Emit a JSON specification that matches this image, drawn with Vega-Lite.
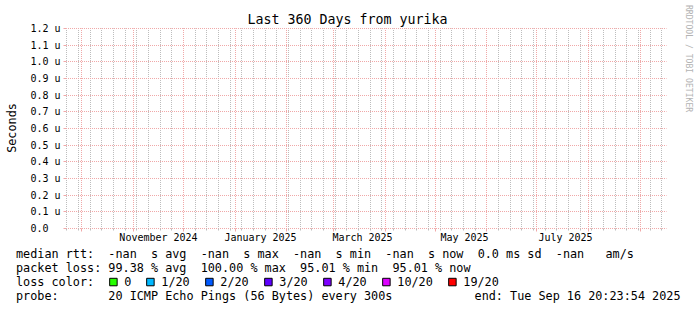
{
  "$schema": "https://vega.github.io/schema/vega-lite/v6.json",
  "width": 600,
  "height": 200,
  "autosize": "none",
  "padding": {"left": 66.5, "top": 28.5, "right": 30.5, "bottom": 81.5},
  "background": "#ffffff",
  "config": {"view": {"stroke": null}, "font": "DejaVu Sans Mono", "axis": {"translate": 0}},
  "title": {"text": "Last 360 Days from yurika", "font": "DejaVu Sans Mono", "fontSize": 13.3, "fontWeight": "normal", "color": "#000000", "anchor": "middle", "baseline": "alphabetic", "dx": -19, "offset": -32},
  "datasets": {
    "legendLines": [
      {"line": 1, "side": "left", "text": "median\u00a0rtt:\u00a0\u00a0-nan\u00a0\u00a0s\u00a0avg\u00a0\u00a0-nan\u00a0\u00a0s\u00a0max\u00a0\u00a0-nan\u00a0\u00a0s\u00a0min\u00a0\u00a0-nan\u00a0\u00a0s\u00a0now\u00a0\u00a00.0\u00a0ms\u00a0sd\u00a0\u00a0-nan\u00a0\u00a0\u00a0am/s"},
      {"line": 2, "side": "left", "text": "packet\u00a0loss:\u00a099.38\u00a0%\u00a0avg\u00a0\u00a0100.00\u00a0%\u00a0max\u00a0\u00a095.01\u00a0%\u00a0min\u00a0\u00a095.01\u00a0%\u00a0now"},
      {"line": 4, "side": "left", "text": "probe:\u00a0\u00a0\u00a0\u00a0\u00a0\u00a0\u00a020\u00a0ICMP\u00a0Echo\u00a0Pings\u00a0(56\u00a0Bytes)\u00a0every\u00a0300s"},
      {"line": 4, "side": "right", "text": "end: Tue Sep 16 20:23:54 2025"}
    ],
    "lossColors": [
      {"loss": "0"}, {"loss": "1/20"}, {"loss": "2/20"}, {"loss": "3/20"}, {"loss": "4/20"}, {"loss": "10/20"}, {"loss": "19/20"}
    ]
  },
  "layer": [
    {
      "layer": [
        {
          "mark": {"type": "rule", "color": "#1f1f1f", "strokeWidth": 1},
          "encoding": {
            "x": {
              "datum": {"year": 2024, "month": 9, "date": 19, "hours": 10, "minutes": 47, "seconds": 54, "utc": true},
              "type": "temporal",
              "scale": {"type": "utc", "nice": false, "round": true, "domain": [
                {"year": 2024, "month": 9, "date": 21, "hours": 20, "minutes": 23, "seconds": 54, "utc": true},
                {"year": 2025, "month": 9, "date": 16, "hours": 20, "minutes": 23, "seconds": 54, "utc": true}
              ]},
              "axis": {"orient": "bottom", "title": null, "labels": false, "domain": false, "ticks": true, "tickSize": 2, "tickColor": "#bdbdbd", "grid": true, "gridColor": "#bdbdbd", "gridOpacity": 1, "gridDash": [1, 1], "gridDashOffset": 0.5, "gridWidth": 1, "tickCount": {"interval": "week", "step": 1}}
            },
            "x2": {"datum": {"year": 2025, "month": 9, "date": 19, "hours": 6, "minutes": 59, "seconds": 54, "utc": true}},
            "y": {
              "datum": 0,
              "type": "quantitative",
              "scale": {"domain": [0, 1.2], "nice": false, "zero": false, "round": true},
              "axis": {
                "orient": "left",
                "values": [0, 0.1, 0.2, 0.3, 0.4, 0.5, 0.6, 0.7, 0.8, 0.9, 1.0, 1.1, 1.2],
                "labelExpr": "datum.value < 0.05 ? '0.0' : format(datum.value, '.1f') + ' u'",
                "labelFont": "DejaVu Sans Mono", "labelFontSize": 10, "labelColor": "#000000",
                "labelAlign": "left", "labelBaseline": "middle", "labelPadding": 33, "labelFlush": false, "labelOverlap": false, "labelBound": false,
                "ticks": true, "tickSize": 3, "tickColor": "#f0a8a8",
                "grid": true, "gridColor": "#f0a8a8", "gridOpacity": 1, "gridDash": [1, 1], "gridDashOffset": 0.5, "gridWidth": 1,
                "domain": false,
                "title": "Seconds", "titleFont": "DejaVu Sans Mono", "titleFontSize": 11.8, "titleFontWeight": "normal", "titleColor": "#000000",
                "titleAngle": -90, "titleAlign": "center", "titleBaseline": "middle", "titleX": -55, "titleY": 99.5
              }
            }
          }
        },
        {
          "mark": {"type": "rule", "color": "#1f1f1f", "strokeWidth": 1},
          "encoding": {
            "x": {
              "datum": {"year": 2024, "month": 9, "date": 21, "hours": 20, "minutes": 23, "seconds": 54, "utc": true},
              "type": "temporal",
              "axis": {"orient": "bottom", "title": null, "labels": false, "domain": false, "ticks": true, "tickSize": 3, "tickColor": "#f0a8a8", "grid": true, "gridColor": "#f0a8a8", "gridOpacity": 1, "gridDash": [1, 1], "gridDashOffset": 0.5, "gridWidth": 1, "tickCount": {"interval": "month", "step": 1}}
            },
            "y": {"datum": -0.024, "type": "quantitative", "axis": null},
            "y2": {"datum": 1.224}
          }
        },
        {
          "mark": {"type": "point", "filled": true, "opacity": 1, "size": 4, "shape": "M2,-3L2,4L7,0.5Z", "color": "#801f1f"},
          "encoding": {
            "x": {
              "datum": {"year": 2025, "month": 9, "date": 16, "hours": 20, "minutes": 23, "seconds": 54, "utc": true},
              "type": "temporal",
              "axis": {
                "orient": "bottom", "title": null, "domain": false, "ticks": false, "grid": false,
                "values": [
                  {"year": 2024, "month": 11, "date": 16, "utc": true},
                  {"year": 2025, "month": 1, "date": 16, "utc": true},
                  {"year": 2025, "month": 3, "date": 18, "hours": 12, "utc": true},
                  {"year": 2025, "month": 5, "date": 18, "hours": 12, "utc": true},
                  {"year": 2025, "month": 7, "date": 18, "hours": 12, "utc": true}
                ],
                "labelExpr": "utcFormat(datum.value, '%B %Y')",
                "labelFont": "DejaVu Sans Mono", "labelFontSize": 10, "labelColor": "#000000",
                "labelAlign": "center", "labelBaseline": "top", "labelPadding": 4, "labelFlush": false, "labelOverlap": false, "labelBound": false
              }
            },
            "y": {"datum": 0, "type": "quantitative", "axis": null}
          }
        },
        {
          "mark": {"type": "point", "filled": true, "opacity": 1, "size": 4, "shape": "M-3,-2L4,-2L0.5,-7Z", "color": "#801f1f"},
          "encoding": {
            "x": {"datum": {"year": 2024, "month": 9, "date": 21, "hours": 20, "minutes": 23, "seconds": 54, "utc": true}, "type": "temporal", "axis": null},
            "y": {"datum": 1.2, "type": "quantitative", "axis": null}
          }
        }
      ],
      "resolve": {"axis": {"x": "independent", "y": "independent"}}
    },
    {
      "data": {"name": "legendLines"},
      "layer": [
        {
          "transform": [{"filter": "datum.side == 'left'"}],
          "mark": {"type": "text", "align": "left", "baseline": "middle", "font": "DejaVu Sans Mono", "fontSize": 11.8, "color": "#000000"},
          "encoding": {
            "x": {"field": "side", "type": "ordinal", "scale": {"type": "point", "domain": ["left", "right"], "range": [-50.5, 614], "padding": 0}, "axis": null},
            "y": {"field": "line", "type": "quantitative", "scale": {"domain": [1, 4], "range": [225.5, 267.5], "zero": false, "nice": false},
              "axis": {"orient": "right", "labels": false, "ticks": false, "domain": false, "grid": false,
                "title": "RRDTOOL / TOBI OETIKER", "titleFont": "DejaVu Sans Mono", "titleFontSize": 8.1, "titleFontWeight": "normal", "titleColor": "#b3b3b3",
                "titleAngle": 90, "titleAlign": "left", "titleBaseline": "middle", "titleX": 21.5, "titleY": -23.5}},
            "text": {"field": "text"}
          }
        },
        {
          "transform": [{"filter": "datum.side == 'right'"}],
          "mark": {"type": "text", "align": "right", "baseline": "middle", "font": "DejaVu Sans Mono", "fontSize": 11.8, "color": "#000000"},
          "encoding": {
            "x": {"field": "side", "type": "ordinal", "axis": null},
            "y": {"field": "line", "type": "quantitative",
              "axis": {"orient": "right", "labels": false, "ticks": false, "domain": false, "grid": false,
                "title": "RRDTOOL / TOBI OETIKER", "titleFont": "DejaVu Sans Mono", "titleFontSize": 8.1, "titleFontWeight": "normal", "titleColor": "#b3b3b3",
                "titleAngle": 90, "titleAlign": "left", "titleBaseline": "middle", "titleX": 21.5, "titleY": -23.5}},
            "text": {"field": "text"}
          }
        }
      ]
    },
    {
      "data": {"name": "lossColors"},
      "mark": {"type": "square", "filled": true, "stroke": "#000000", "strokeWidth": 1, "opacity": 0},
      "encoding": {
        "fill": {
          "field": "loss", "type": "nominal",
          "scale": {"domain": ["0", "1/20", "2/20", "3/20", "4/20", "10/20", "19/20"], "range": ["#26ff00", "#00b8ff", "#0059ff", "#5e00ff", "#7e00ff", "#dd00ff", "#ff0000"]},
          "legend": {
            "orient": "none", "legendX": -50.5, "legendY": 247.5, "direction": "horizontal",
            "title": "loss color:", "titleOrient": "left", "titleFont": "DejaVu Sans Mono", "titleFontSize": 11.8, "titleFontWeight": "normal", "titleColor": "#000000", "titlePadding": 12.5,
            "labelFont": "DejaVu Sans Mono", "labelFontSize": 11.8, "labelColor": "#000000", "labelOffset": 5, "columnPadding": 13, "labelLimit": 0,
            "symbolType": "square", "symbolSize": 56, "symbolStrokeColor": "#000000", "symbolStrokeWidth": 1, "symbolOpacity": 1,
            "padding": 0, "offset": 0
          }
        }
      }
    }
  ],
  "resolve": {"scale": {"x": "independent", "y": "independent", "fill": "independent"}, "axis": {"x": "independent", "y": "independent"}}
}
